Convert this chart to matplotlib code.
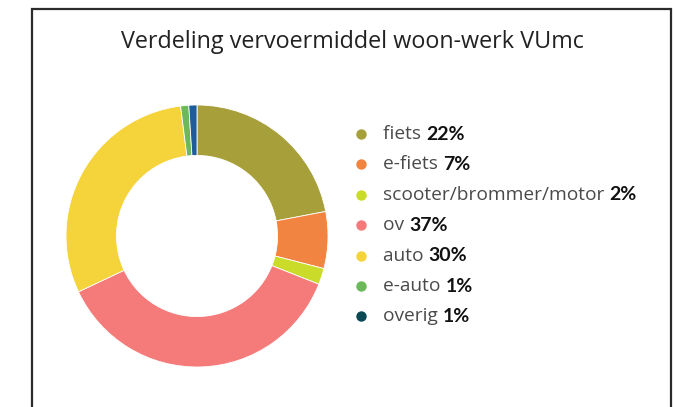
import matplotlib.pyplot as plt
from matplotlib import font_manager

labels = ["fiets", "e-fiets", "scooter/brommer/motor", "ov", "auto", "e-auto", "overig"]
shares = [22, 7, 2, 37, 30, 1, 1]
pie_colors = ["#A69F3A", "#F28442", "#CBDB2A", "#F47B7A", "#F5D33B", "#6CB85B", "#1F5C99"]
dot_colors = ["#A69F3A", "#F28442", "#CBDB2A", "#F47B7A", "#F5D33B", "#6CB85B", "#0B4A55"]
title = "Verdeling vervoermiddel woon-werk VUmc"

W, H = 674, 407
fig = plt.figure(figsize=(W / 100, H / 100), dpi=100)

names = {f.name for f in font_manager.fontManager.ttflist}
fam = "Open Sans" if "Open Sans" in names else "DejaVu Sans"
bold_fam = "Lato" if "Lato" in names else "DejaVu Sans"

# frame (bottom edge is cut off in the original)
frame = fig.add_axes([0, 0, 1, 1])
frame.set_xlim(0, W)
frame.set_ylim(H, 0)
frame.axis("off")
frame.plot([32, 32, 671, 671], [H + 5, 9, 9, H + 5], color="#2b2b2b", lw=1.6,
           solid_joinstyle="miter")

frame.text(352, 42, title, ha="center", va="center", fontsize=16.8,
           family=fam, color="#222222")

# donut
ax = fig.add_axes([66 / W, (H - 367) / H, 262 / W, 262 / H])
ax.pie(shares, colors=pie_colors, startangle=90, counterclock=False,
       wedgeprops=dict(width=0.385, edgecolor="white", linewidth=0.6))
ax.set_xlim(-1, 1)
ax.set_ylim(-1, 1)

# legend
renderer = fig.canvas.get_renderer()
y0, dy = 134, 30.4
for i, (lab, val) in enumerate(zip(labels, shares)):
    y = y0 + i * dy
    frame.plot(361, y, "o", ms=7.5, color=dot_colors[i], mec="none")
    t = frame.text(383, y, lab + " ", ha="left", va="center", fontsize=13.8,
                   family=fam, color="#4a4a4a")
    bb = t.get_window_extent(renderer)
    frame.text(bb.x1, y, f"{val}%", ha="left", va="center", fontsize=14,
               family=bold_fam, fontweight="bold", color="#111111")

fig.savefig("out.png", dpi=100)
